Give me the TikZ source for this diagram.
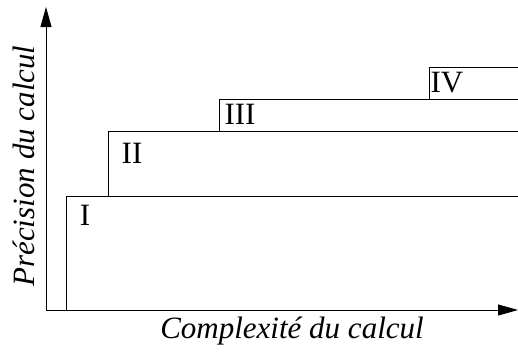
\documentclass[tikz,border=0pt]{standalone}
\usepackage{fontspec}
\setmainfont{Liberation Serif}
\usetikzlibrary{arrows.meta}
\begin{document}
\begin{tikzpicture}[x=1pt,y=-1pt,
  axis/.style={line width=0.9pt,-{Triangle[length=20pt,width=11pt]}},
  level/.style={line width=0.8pt},
  lvl/.style={font=\fontsize{31}{31}\selectfont,inner sep=0pt},
  axlabel/.style={font=\fontsize{31}{31}\selectfont\itshape,inner sep=0pt}]
\useasboundingbox (0,0) rectangle (518,351);
\coordinate (O) at (46,310);
\coordinate (ytip) at (46,7);
\coordinate (xtip) at (518,310);
\draw[axis] (O) -- (ytip);
\draw[axis] (O) -- (xtip);
\draw[level] (518,196) -- (66,196) -- (66,310);
\draw[level] (518,131) -- (108,131) -- (108,196);
\draw[level] (518,99) -- (219,99) -- (219,131);
\draw[level] (518,67) -- (429,67) -- (429,99);
\node[lvl] (l1) at (85,215) {I};
\node[lvl] (l2) at (132,153) {II};
\node[lvl] (l3) at (240,114) {III};
\node[lvl] (l4) at (447,83) {IV};
\node[axlabel] (xl) at (292,331) {Complexité du calcul};
\node[axlabel,rotate=90] (yl) at (24,166) {Précision du calcul};
\end{tikzpicture}
\end{document}
